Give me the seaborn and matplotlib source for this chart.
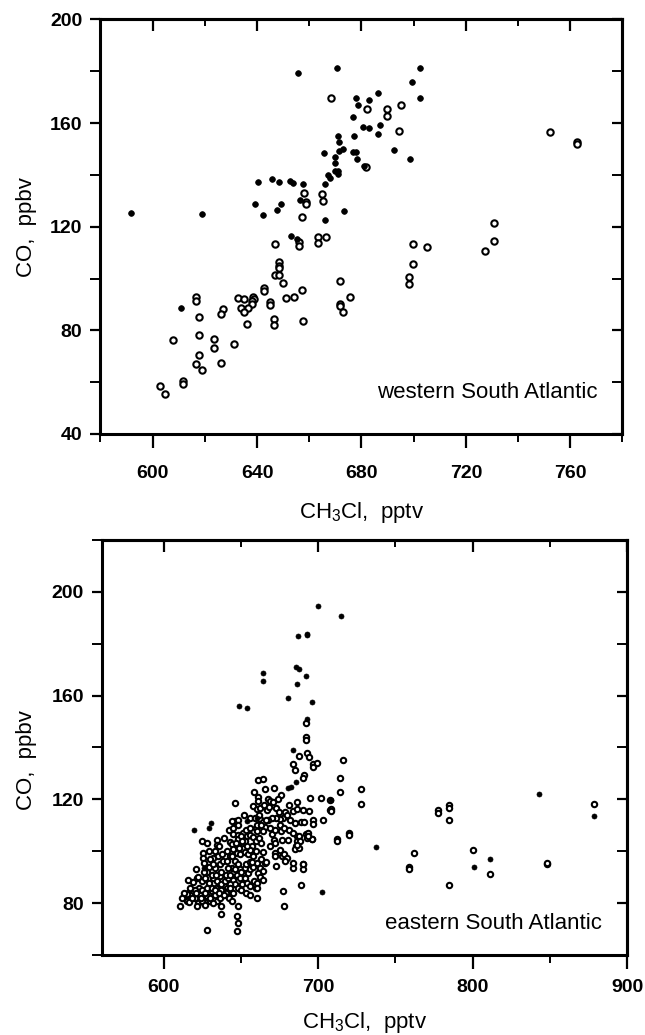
import matplotlib
matplotlib.use("Agg")
import matplotlib.pyplot as plt
from matplotlib.ticker import MultipleLocator
import pandas as pd
import seaborn as sns

# ---------------- data: western South Atlantic ----------------
w_filled_ch3cl = [591.7, 618.9, 655.8, 670.5, 677.9, 683.0, 678.5, 686.2, 676.6, 680.7,
                  683.0, 686.4, 677.1, 671.1, 671.4, 673.0, 671.3, 665.6, 669.7, 676.6,
                  677.9, 678.2, 669.7, 669.7, 671.1, 671.1, 667.0, 668.0, 666.0, 640.5,
                  645.8, 648.5, 652.6, 653.9, 657.7, 656.4, 639.2, 649.0, 647.5, 642.4,
                  666.1, 673.3, 702.5, 699.5, 702.4, 687.0, 692.3, 698.6, 681.0, 652.9,
                  655.4, 610.7]
w_filled_co = [125.3, 124.9, 179.2, 181.4, 169.7, 168.8, 166.9, 171.7, 162.5, 158.5,
               158.1, 155.9, 154.9, 155.2, 152.7, 150.0, 149.1, 148.3, 147.1, 148.9,
               148.9, 146.2, 144.5, 141.4, 141.4, 140.2, 139.8, 138.9, 136.6, 137.3,
               138.3, 137.1, 137.5, 136.9, 136.3, 130.4, 128.7, 128.9, 126.6, 124.5,
               122.4, 126.2, 181.4, 175.8, 169.7, 159.2, 149.8, 146.3, 143.5, 116.5,
               115.2, 88.6]
w_open_ch3cl = [668.2, 682.0, 681.7, 657.9, 658.9, 658.7, 664.9, 665.1, 657.1, 689.9,
                689.8, 695.0, 694.4, 730.6, 752.2, 762.7, 762.7, 646.7, 656.0, 656.0,
                663.5, 663.5, 666.5, 648.4, 648.4, 648.4, 646.7, 648.4, 649.9, 642.8,
                642.8, 638.3, 638.9, 637.9, 637.9, 636.4, 632.8, 635.1, 633.8, 635.1,
                636.0, 645.1, 645.1, 646.6, 646.6, 651.2, 654.1, 657.3, 657.5, 671.8,
                671.8, 671.8, 672.8, 675.6, 616.7, 616.7, 617.9, 627.1, 626.3, 607.7,
                617.9, 623.4, 623.4, 631.2, 617.9, 616.6, 626.2, 618.9, 611.5, 611.5,
                602.8, 604.6, 699.7, 705.1, 699.7, 698.3, 698.3, 730.8, 727.3]
w_open_co = [169.7, 165.5, 143.1, 132.9, 129.7, 128.6, 132.5, 129.8, 123.9, 165.6,
             162.9, 166.9, 156.8, 121.4, 156.4, 152.6, 152.0, 113.3, 114.1, 112.5,
             115.9, 113.7, 116.1, 106.2, 105.0, 104.0, 101.3, 101.2, 98.1, 96.3,
             95.3, 92.7, 92.2, 91.5, 90.2, 88.8, 92.3, 92.0, 88.6, 86.9,
             82.4, 91.0, 89.7, 84.3, 82.0, 92.4, 92.7, 95.4, 83.8, 98.9,
             90.1, 89.5, 86.9, 92.7, 92.9, 91.5, 85.0, 88.2, 86.4, 76.2,
             78.1, 76.6, 73.2, 74.7, 70.4, 67.2, 67.3, 64.6, 60.5, 59.4,
             58.7, 55.6, 113.2, 112.3, 105.7, 100.6, 97.9, 114.5, 110.6]

# ---------------- data: eastern South Atlantic ----------------
e_filled_ch3cl = [700.0, 714.7, 686.9, 692.5, 692.5, 685.8, 687.7, 692.2, 686.4, 664.4,
                  664.4, 680.6, 696.1, 648.7, 654.0, 692.5, 737.2, 801.2, 811.3, 843.0,
                  878.9, 702.2, 619.5, 629.5, 630.3, 682.1, 680.6, 685.5, 708.0, 660.1,
                  654.1, 626.0, 683.8]
e_filled_co = [194.5, 190.5, 183.1, 183.9, 183.2, 171.0, 170.1, 167.5, 164.6, 168.7,
               165.7, 159.1, 157.6, 156.1, 155.3, 150.8, 101.6, 94.0, 97.0, 122.1,
               113.4, 84.3, 108.2, 108.8, 111.0, 124.8, 124.2, 126.8, 119.7, 112.7,
               111.8, 93.6, 139.0]
e_open_ch3cl = [715.8, 714.0, 714.0, 727.6, 727.6, 707.6, 707.6, 712.3, 712.3, 719.7,
                719.7, 758.9, 758.9, 762.0, 777.7, 777.7, 785.0, 785.0, 785.0, 785.0,
                800.3, 811.3, 848.2, 848.2, 878.9,
                692.4, 692.4, 692.4, 687.7, 692.9, 694.2, 696.8, 696.8, 699.4, 683.8,
                685.1, 690.9, 689.9, 661.2, 664.4, 665.5, 667.2, 668.7, 658.4, 671.3,
                675.8, 686.2, 681.2, 694.8, 702.1, 708.0, 708.0, 646.1, 661.0, 661.2,
                657.9, 660.5, 662.3, 666.6, 672.6, 674.5, 678.4, 677.3, 675.2, 673.0,
                669.8, 667.6, 683.8, 686.0, 690.3, 694.2, 679.9, 681.7, 684.9, 688.6,
                690.7, 652.1, 655.8, 646.1, 648.2, 644.3, 662.3, 659.7, 660.5, 660.1,
                664.4, 665.5, 664.0, 696.8, 696.8, 703.2, 645.0, 648.2, 651.5, 653.6,
                655.8, 648.2, 650.4, 652.5, 657.9, 659.7, 661.8, 663.3, 670.2, 675.8,
                676.3, 671.3, 680.4, 686.6, 686.0, 692.4, 692.9, 696.3, 634.2, 634.2,
                642.8, 643.9, 645.0, 648.9, 647.6, 649.7, 652.6, 654.7, 656.9, 655.8,
                657.9, 664.4, 671.9, 671.9, 675.2, 676.3, 677.8, 679.5, 678.4, 685.5,
                684.9, 687.7, 625.2, 629.5, 625.6, 626.0, 632.0, 635.3, 633.1, 636.4,
                638.5, 641.1, 642.8, 646.1, 643.9, 641.8, 648.2, 649.3, 652.5, 651.5,
                654.7, 655.8, 647.2, 649.3, 645.0, 646.1, 648.2, 650.4, 652.5, 654.1,
                655.8, 658.4, 659.7, 660.1, 662.3, 665.5, 664.4, 661.2, 662.3, 664.4,
                660.5, 660.1, 660.5, 672.6, 683.8, 689.9, 690.3, 677.3, 677.8, 689.2,
                621.3, 624.5, 626.7, 629.5, 632.0, 634.2, 636.4, 637.4, 639.6, 641.8,
                642.8, 640.7, 638.5, 615.9, 617.0, 614.8, 620.2, 623.4, 625.6, 627.7,
                631.0, 633.1, 634.2, 636.4, 622.3, 624.5, 626.7, 621.3, 629.9, 632.0,
                637.4, 637.0, 648.2, 647.6, 648.2, 647.6, 628.2, 610.5, 616.5, 615.2,
                695.9, 693.1, 693.1, 687.5, 688.1, 686.4, 683.8, 689.9,
                623.0, 625.0, 628.0, 631.0, 634.0, 637.0, 640.0, 643.0, 645.0, 650.0,
                653.0, 656.0, 620.0, 618.0, 621.0, 624.0, 627.0, 630.0, 633.0, 636.0,
                639.0, 642.0, 644.0, 628.0, 631.0, 634.0, 637.0, 640.0, 643.0, 646.0,
                650.0, 653.0, 656.0, 658.0, 622.0, 619.0, 617.0, 626.0, 629.0, 632.0,
                638.0, 641.0, 644.0, 647.0, 650.0, 653.0, 656.0, 659.0, 662.0, 665.0,
                668.0, 671.0, 674.0, 663.0, 666.0, 669.0, 672.0, 675.0, 678.0, 681.0,
                684.0, 660.0, 663.0, 666.0, 669.0, 672.0, 630.0, 633.0, 636.0, 639.0,
                642.0, 645.0, 648.0, 651.0, 654.0, 657.0, 625.0, 628.0, 621.0, 616.0,
                613.0, 612.0]
e_open_co = [135.3, 128.3, 123.0, 123.9, 118.3, 119.8, 115.8, 104.8, 103.9, 107.2,
             106.3, 94.0, 93.0, 99.4, 115.8, 114.9, 117.9, 116.8, 112.2, 86.9,
             100.3, 91.3, 95.0, 95.6, 118.3,
             149.3, 143.9, 143.0, 136.7, 137.9, 136.2, 133.6, 132.3, 134.1, 133.6,
             131.3, 129.5, 128.2, 127.4, 127.7, 123.9, 120.1, 119.4, 122.9, 124.2,
             121.7, 119.1, 117.9, 120.4, 120.4, 116.2, 115.5, 118.6, 121.0, 119.4,
             117.5, 116.2, 116.8, 115.8, 116.6, 115.3, 115.3, 113.0, 112.3, 112.7,
             113.0, 111.9, 115.5, 116.2, 115.8, 115.4, 114.0, 111.9, 111.0, 111.3,
             111.3, 114.0, 112.7, 111.7, 111.9, 111.7, 112.3, 109.1, 110.1, 107.8,
             111.4, 109.3, 107.8, 111.9, 110.4, 111.9, 106.8, 106.3, 107.2, 105.9,
             106.3, 104.6, 103.3, 103.9, 105.5, 103.9, 105.0, 103.3, 106.8, 107.8,
             104.2, 104.2, 104.2, 105.9, 103.9, 106.5, 105.2, 104.7, 104.2, 102.4,
             103.7, 102.6, 100.7, 101.1, 99.4, 98.8, 99.8, 98.8, 102.0, 100.3,
             98.1, 99.8, 99.4, 98.1, 100.3, 98.1, 99.0, 97.5, 96.4, 102.0,
             100.7, 101.3, 99.4, 100.1, 97.5, 95.6, 97.2, 98.1, 93.6, 94.9,
             96.2, 96.2, 98.1, 96.2, 93.6, 93.6, 94.9, 93.0, 93.6, 91.7,
             91.7, 93.0, 91.0, 89.8, 89.1, 87.2, 85.9, 87.2, 89.8, 87.8,
             86.5, 88.7, 85.9, 95.6, 93.6, 95.6, 92.3, 91.7, 90.0, 89.1,
             87.6, 85.9, 82.0, 94.3, 93.4, 95.2, 93.0, 84.6, 78.8, 86.9,
             89.8, 88.5, 89.8, 87.8, 89.8, 88.5, 90.4, 87.2, 88.5, 89.8,
             87.2, 85.9, 85.2, 83.9, 83.3, 80.7, 82.0, 83.3, 81.4, 82.7,
             84.6, 83.3, 80.7, 82.0, 80.1, 80.7, 79.4, 78.8, 80.7, 80.1,
             78.8, 75.9, 78.8, 74.9, 72.2, 69.1, 69.8, 78.8, 80.4, 83.5,
             104.8, 107.1, 105.9, 105.9, 103.9, 102.4, 95.5, 94.9,
             86.0, 85.0, 86.0, 86.0, 86.0, 85.0, 84.0, 86.0, 84.0, 85.0,
             84.0, 83.0, 85.0, 82.0, 84.0, 82.0, 84.0, 82.0, 85.0, 84.0,
             83.0, 82.0, 81.0, 92.0, 91.0, 91.0, 92.0, 91.0, 91.0, 93.0,
             92.0, 95.0, 96.0, 94.0, 90.0, 88.0, 86.0, 92.0, 94.0, 95.0,
             99.0, 100.0, 98.0, 103.0, 106.0, 108.0, 109.0, 113.0, 114.0, 118.0,
             117.0, 119.0, 120.0, 110.0, 112.0, 109.0, 108.0, 110.0, 109.0, 108.0,
             107.0, 100.0, 97.0, 96.0, 102.0, 103.0, 97.0, 100.0, 102.0, 105.0,
             108.0, 109.0, 110.0, 104.0, 102.0, 96.0, 104.0, 103.0, 93.0, 89.0,
             84.0, 82.0]

x_label = r"CH$_3$Cl,  pptv"
y_label = "CO,  ppbv"
top_text = "western South Atlantic"
bottom_text = "eastern South Atlantic"
top_xticks = [600, 640, 680, 720, 760]
top_yticks = [40, 80, 120, 160, 200]
bot_xticks = [600, 700, 800, 900]
bot_yticks = [80, 120, 160, 200]

# ---------------- style ----------------
sns.set_theme(style="ticks")
plt.rcParams["font.family"] = ["Liberation Sans", "DejaVu Sans"]
plt.rcParams["mathtext.fontset"] = "custom"
plt.rcParams["mathtext.rm"] = "Liberation Sans"
plt.rcParams["mathtext.default"] = "regular"
for key in ("text.color", "axes.labelcolor", "xtick.color", "ytick.color",
            "axes.edgecolor"):
    plt.rcParams[key] = "black"

fig = plt.figure(figsize=(6.45, 10.35), dpi=100)
fig.patch.set_facecolor("white")
ax1 = fig.add_axes([0.1558, 0.5807, 0.8093, 0.4005])
ax2 = fig.add_axes([0.1581, 0.0773, 0.8140, 0.4010])


def draw(ax, fx, fy, ox, oy, s_f, s_o, lw_o):
    df_f = pd.DataFrame({"x": fx, "y": fy})
    df_o = pd.DataFrame({"x": ox, "y": oy})
    sns.scatterplot(data=df_o, x="x", y="y", ax=ax, marker="o", s=s_o,
                    color="white", edgecolor="black", linewidth=lw_o, zorder=3)
    sns.scatterplot(data=df_f, x="x", y="y", ax=ax, marker="o", s=s_f,
                    color="black", edgecolor="black", linewidth=0.5, zorder=4)


draw(ax1, w_filled_ch3cl, w_filled_co, w_open_ch3cl, w_open_co, 17, 21, 1.5)
draw(ax2, e_filled_ch3cl, e_filled_co, e_open_ch3cl, e_open_co, 13, 15, 1.5)


def style_axes(ax, xlim, ylim, xmaj, xmin, ymaj, ymin, xpad):
    ax.set_xlim(*xlim)
    ax.set_ylim(*ylim)
    ax.xaxis.set_major_locator(MultipleLocator(xmaj))
    ax.xaxis.set_minor_locator(MultipleLocator(xmin))
    ax.yaxis.set_major_locator(MultipleLocator(ymaj))
    ax.yaxis.set_minor_locator(MultipleLocator(ymin))
    for sp in ax.spines.values():
        sp.set_visible(True)
        sp.set_linewidth(2.2)
        sp.set_color("black")
    ax.tick_params(axis="x", which="major", direction="out", length=10, width=1.6,
                   pad=xpad, labelsize=14, colors="black")
    ax.tick_params(axis="x", which="minor", direction="out", length=5.5, width=1.4)
    ax.tick_params(axis="y", which="major", direction="out", length=7, width=1.6,
                   pad=6, labelsize=14, colors="black")
    ax.tick_params(axis="y", which="minor", direction="out", length=7, width=1.4)
    # mirrored ticks on top and right, pointing inwards
    top = ax.secondary_xaxis("top")
    top.xaxis.set_major_locator(MultipleLocator(xmaj))
    top.xaxis.set_minor_locator(MultipleLocator(xmin))
    top.tick_params(axis="x", which="major", direction="in", length=8.5, width=1.6,
                    labeltop=False)
    top.tick_params(axis="x", which="minor", direction="in", length=5, width=1.4)
    top.spines["top"].set_linewidth(2.2)
    right = ax.secondary_yaxis("right")
    right.yaxis.set_major_locator(MultipleLocator(ymaj))
    right.yaxis.set_minor_locator(MultipleLocator(ymin))
    right.tick_params(axis="y", which="major", direction="in", length=7, width=1.6,
                      labelright=False)
    right.tick_params(axis="y", which="minor", direction="in", length=7, width=1.4)
    right.spines["right"].set_linewidth(2.2)


style_axes(ax1, (580, 780), (40, 200), 40, 20, 40, 20, 12)
style_axes(ax2, (560, 900), (60, 220), 100, 50, 40, 20, 7)

ax1.set_xticks(top_xticks)
ax1.set_yticks(top_yticks)
ax2.set_xticks(bot_xticks)
ax2.set_yticks(bot_yticks)
for ax in (ax1, ax2):
    for lab in ax.get_xticklabels() + ax.get_yticklabels():
        lab.set_fontweight("bold")
        lab.set_fontsize(14)
        lab.set_color("black")

ax1.set_xlim(580, 780)
ax1.set_ylim(40, 200)
ax2.set_xlim(560, 900)
ax2.set_ylim(60, 220)

for ax, ylab_x, ylab_y, xlab_y in ((ax1, -0.141, 0.50, -0.159), (ax2, -0.143, 0.47, -0.1325)):
    ax.set_xlabel(x_label, fontsize=16, va="top", color="black")
    ax.set_ylabel(y_label, fontsize=16, va="center", color="black")
    ax.xaxis.set_label_coords(0.5, xlab_y)
    ax.yaxis.set_label_coords(ylab_x, ylab_y)

ax1.text(0.953, 0.101, top_text, transform=ax1.transAxes, ha="right", va="center",
         fontsize=16, color="black")
ax2.text(0.952, 0.077, bottom_text, transform=ax2.transAxes, ha="right", va="center",
         fontsize=16, color="black")

fig.savefig("out.png", dpi=100, facecolor="white")
